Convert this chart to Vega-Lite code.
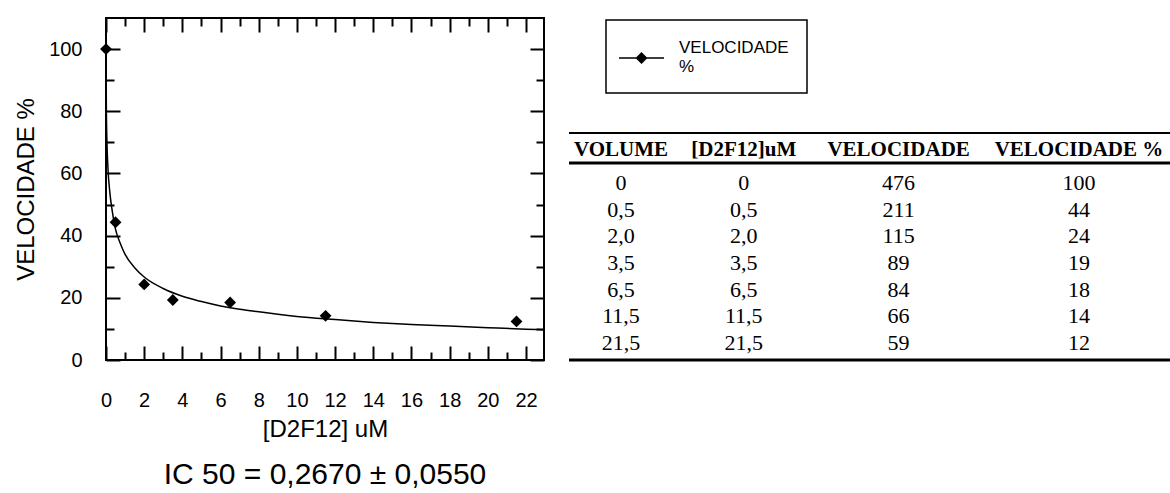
{
  "$schema": "https://vega.github.io/schema/vega-lite/v6.json",
  "background": "white",
  "padding": {"left": 13, "top": 16, "right": 0, "bottom": 0},
  "autosize": {"type": "pad"},
  "bounds": "flush",
  "spacing": 25,
  "config": {
    "view": {"stroke": null},
    "font": "Liberation Sans",
    "axis": {"labelColor": "black", "titleColor": "black", "labelFont": "Liberation Sans", "titleFont": "Liberation Sans", "titleFontWeight": "normal", "grid": false, "domain": false, "tickColor": "black", "tickWidth": 2, "labelFlush": false, "labelOverlap": false},
    "legend": {"strokeWidth": 1.5}
  },
  "datasets": {
    "points": [
      {"conc": 0, "vel": 100},
      {"conc": 0.5, "vel": 44.3},
      {"conc": 2, "vel": 24.3},
      {"conc": 3.5, "vel": 19.3},
      {"conc": 6.5, "vel": 18.5},
      {"conc": 11.5, "vel": 14.2},
      {"conc": 21.5, "vel": 12.4}
    ],
    "curve": [
      {"conc": 0.005, "vel": 92},
      {"conc": 0.02, "vel": 80},
      {"conc": 0.05, "vel": 70},
      {"conc": 0.1, "vel": 62},
      {"conc": 0.2, "vel": 54},
      {"conc": 0.3, "vel": 49},
      {"conc": 0.5, "vel": 42},
      {"conc": 0.75, "vel": 37.5},
      {"conc": 1, "vel": 34},
      {"conc": 1.5, "vel": 29.7},
      {"conc": 2, "vel": 26.7},
      {"conc": 3, "vel": 23},
      {"conc": 4, "vel": 20.5},
      {"conc": 5, "vel": 18.8},
      {"conc": 6, "vel": 17.4},
      {"conc": 7, "vel": 16.3},
      {"conc": 8, "vel": 15.5},
      {"conc": 9, "vel": 14.7},
      {"conc": 10, "vel": 14},
      {"conc": 12, "vel": 13},
      {"conc": 14, "vel": 12.1},
      {"conc": 16, "vel": 11.4},
      {"conc": 18, "vel": 10.9},
      {"conc": 20, "vel": 10.4},
      {"conc": 22, "vel": 9.9},
      {"conc": 22.94, "vel": 9.7}
    ],
    "cells": [
      {"row": 0, "col": 1, "text": "VOLUME"},
      {"row": 0, "col": 2, "text": "[D2F12]uM"},
      {"row": 0, "col": 3, "text": "VELOCIDADE"},
      {"row": 0, "col": 4, "text": "VELOCIDADE %"},
      {"row": 1, "col": 1, "text": "0"},
      {"row": 1, "col": 2, "text": "0"},
      {"row": 1, "col": 3, "text": "476"},
      {"row": 1, "col": 4, "text": "100"},
      {"row": 2, "col": 1, "text": "0,5"},
      {"row": 2, "col": 2, "text": "0,5"},
      {"row": 2, "col": 3, "text": "211"},
      {"row": 2, "col": 4, "text": "44"},
      {"row": 3, "col": 1, "text": "2,0"},
      {"row": 3, "col": 2, "text": "2,0"},
      {"row": 3, "col": 3, "text": "115"},
      {"row": 3, "col": 4, "text": "24"},
      {"row": 4, "col": 1, "text": "3,5"},
      {"row": 4, "col": 2, "text": "3,5"},
      {"row": 4, "col": 3, "text": "89"},
      {"row": 4, "col": 4, "text": "19"},
      {"row": 5, "col": 1, "text": "6,5"},
      {"row": 5, "col": 2, "text": "6,5"},
      {"row": 5, "col": 3, "text": "84"},
      {"row": 5, "col": 4, "text": "18"},
      {"row": 6, "col": 1, "text": "11,5"},
      {"row": 6, "col": 2, "text": "11,5"},
      {"row": 6, "col": 3, "text": "66"},
      {"row": 6, "col": 4, "text": "14"},
      {"row": 7, "col": 1, "text": "21,5"},
      {"row": 7, "col": 2, "text": "21,5"},
      {"row": 7, "col": 3, "text": "59"},
      {"row": 7, "col": 4, "text": "12"}
    ],
    "rules": [
      {"kind": "thin", "row": -0.87},
      {"kind": "thick", "row": 0.25},
      {"kind": "thick", "row": 7.64}
    ]
  },
  "hconcat": [
    {
      "width": 438,
      "height": 342,
      "view": {"stroke": "black", "strokeWidth": 2},
      "title": {"text": "IC 50 = 0,2670 ± 0,0550", "orient": "bottom", "anchor": "middle", "fontSize": 30, "font": "Liberation Sans", "fontWeight": "normal", "color": "black", "offset": 19},
      "layer": [
        {
          "data": {"name": "curve"},
          "mark": {"type": "line", "color": "black", "strokeWidth": 1.5, "interpolate": "monotone"},
          "encoding": {
            "x": {"field": "conc", "type": "quantitative", "scale": {"domain": [0, 22.94], "nice": false, "zero": false},
              "axis": {"orient": "top", "values": [0,1,2,3,4,5,6,7,8,9,10,11,12,13,14,15,16,17,18,19,20,21,22], "labels": false, "title": null, "tickSize": -14,
                "tickDash": {"condition": {"test": "datum.value % 2 !== 0", "value": [8, 40]}, "value": []}}},
            "y": {"field": "vel", "type": "quantitative", "scale": {"domain": [0, 110], "nice": false, "zero": false},
              "axis": {"orient": "right", "values": [0,10,20,30,40,50,60,70,80,90,100], "labels": false, "title": null, "tickSize": -14,
                "tickDash": {"condition": {"test": "datum.value % 20 !== 0", "value": [8, 40]}, "value": []}}}
          }
        },
        {
          "data": {"name": "points"},
          "mark": {"type": "point", "shape": "diamond", "filled": true, "size": 140, "opacity": 1},
          "encoding": {
            "x": {"field": "conc", "type": "quantitative", "scale": {"domain": [0, 22.94], "nice": false, "zero": false},
              "axis": {"orient": "bottom", "values": [0,1,2,3,4,5,6,7,8,9,10,11,12,13,14,15,16,17,18,19,20,21,22], "labelExpr": "datum.value % 2 === 0 ? datum.label : ''", "labelFontSize": 20, "labelPadding": 44, "title": "[D2F12] uM", "titleFontSize": 24, "titlePadding": 7, "tickSize": -14,
                "tickDash": {"condition": {"test": "datum.value % 2 !== 0", "value": [8, 40]}, "value": []}}},
            "y": {"field": "vel", "type": "quantitative", "scale": {"domain": [0, 110], "nice": false, "zero": false},
              "axis": {"orient": "left", "values": [0,10,20,30,40,50,60,70,80,90,100], "labelExpr": "datum.value % 20 === 0 ? datum.label : ''", "labelFontSize": 20, "labelPadding": 38, "title": "VELOCIDADE %", "titleFontSize": 24, "titlePadding": 10, "tickSize": -14,
                "tickDash": {"condition": {"test": "datum.value % 20 !== 0", "value": [8, 40]}, "value": []}}},
            "color": {"datum": "VELOCIDADE %", "type": "nominal", "scale": {"range": ["black"]},
              "legend": {"orient": "none", "legendX": 500, "legendY": 2, "title": null,
                "symbolType": "M-1.5,0.93L3,0.93L3,1.07L-1.5,1.07Z M0.75,0.4L1.35,1L0.75,1.6L0.15,1Z",
                "symbolSize": 400, "symbolFillColor": "black", "symbolStrokeWidth": 0, "symbolOpacity": 1,
                "labelExpr": "['VELOCIDADE', '%']", "labelFontSize": 17, "labelFont": "Liberation Sans", "labelColor": "black", "labelOffset": 35,
                "padding": 18, "strokeColor": "black", "fillColor": "white", "cornerRadius": 0}}
          }
        }
      ],
      "resolve": {"axis": {"x": "independent", "y": "independent"}}
    },
    {
      "width": 602,
      "height": 342,
      "view": {"stroke": null},
      "layer": [
        {
          "data": {"name": "rules"},
          "transform": [{"filter": "datum.kind === 'thin'"}],
          "mark": {"type": "rule", "color": "black", "strokeWidth": 2},
          "encoding": {"y": {"field": "row", "type": "quantitative", "scale": {"domain": [-5.186, 7.64], "reverse": true, "nice": false, "zero": false}, "axis": null}}
        },
        {
          "data": {"name": "rules"},
          "transform": [{"filter": "datum.kind === 'thick'"}],
          "mark": {"type": "rule", "color": "black", "strokeWidth": 3},
          "encoding": {"y": {"field": "row", "type": "quantitative", "scale": {"domain": [-5.186, 7.64], "reverse": true, "nice": false, "zero": false}, "axis": null}}
        },
        {
          "data": {"name": "cells"},
          "transform": [{"filter": "datum.row === 0"}],
          "mark": {"type": "text", "font": "Liberation Serif", "fontWeight": "bold", "fontSize": 21, "baseline": "alphabetic", "align": "center", "color": "black"},
          "encoding": {
            "x": {"field": "col", "type": "quantitative", "scale": {"type": "pow", "exponent": 1.45, "domain": [0.401, 4.468], "nice": false, "zero": false}, "axis": null},
            "y": {"field": "row", "type": "quantitative", "scale": {"domain": [-5.186, 7.64], "reverse": true, "nice": false, "zero": false}, "axis": null},
            "text": {"field": "text"}
          }
        },
        {
          "data": {"name": "cells"},
          "transform": [{"filter": "datum.row > 0"}],
          "mark": {"type": "text", "font": "Liberation Serif", "fontSize": 22, "baseline": "middle", "align": "center", "color": "black"},
          "encoding": {
            "x": {"field": "col", "type": "quantitative", "scale": {"type": "pow", "exponent": 1.45, "domain": [0.401, 4.468], "nice": false, "zero": false}, "axis": null},
            "y": {"field": "row", "type": "quantitative", "scale": {"domain": [-5.186, 7.64], "reverse": true, "nice": false, "zero": false}, "axis": null},
            "text": {"field": "text"}
          }
        }
      ]
    }
  ]
}
